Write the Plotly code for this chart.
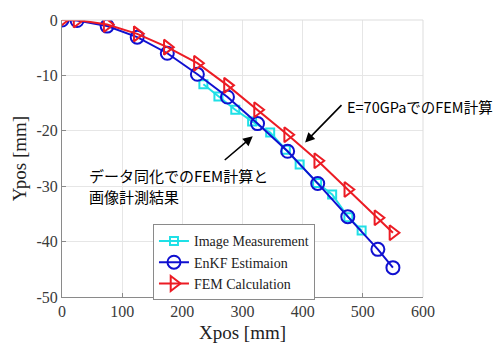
import plotly.graph_objects as go

# ---- data ----
meas_x = [235, 260, 288, 316, 346, 372, 395, 424, 449, 476, 498]
meas_y = [-11.6, -13.8, -16.2, -18.3, -20.3, -23.4, -26.1, -29.4, -31.5, -35.6, -38.0]

enkf_x = [0, 25, 75, 125, 175, 225, 275, 325, 375, 425, 475, 525, 550]
enkf_y = [0, -0.1, -1.1, -3.1, -6.0, -9.8, -13.9, -18.7, -23.7, -29.5, -35.5, -41.4, -44.7]

fem_x = [0, 25, 75, 125, 175, 225, 275, 325, 375, 425, 475, 525, 550]
fem_y = [0, 0, -0.8, -2.5, -4.9, -7.8, -11.8, -16.2, -20.7, -25.4, -30.6, -35.7, -38.4]

x_ticks = [0, 100, 200, 300, 400, 500, 600]
y_ticks = [0, -10, -20, -30, -40, -50]

names = ["Image Measurement", "EnKF Estimaion", "FEM Calculation"]
note_fem = "E=70GPaでのFEM計算"
note_enkf_1 = "データ同化でのFEM計算と"
note_enkf_2 = "画像計測結果"

CYAN = "#1fe0e6"
BLUE = "#1010d0"
RED = "#ec1c24"
SERIF = "Liberation Serif"
JP = "Noto Sans CJK JP"

fig = go.Figure()
fig.add_trace(go.Scatter(x=meas_x, y=meas_y, mode="lines+markers", name=names[0],
                         line=dict(color=CYAN, width=2),
                         marker=dict(symbol="square-open", size=8, color=CYAN,
                                     line=dict(width=2, color=CYAN))))
fig.add_trace(go.Scatter(x=enkf_x, y=enkf_y, mode="lines+markers", name=names[1],
                         line=dict(color=BLUE, width=2),
                         marker=dict(symbol="circle-open", size=13, color=BLUE,
                                     line=dict(width=2, color=BLUE))))
fig.add_trace(go.Scatter(x=fem_x, y=fem_y, mode="lines+markers", name=names[2],
                         line=dict(color=RED, width=2),
                         marker=dict(symbol="triangle-right-open", size=13, color=RED,
                                     line=dict(width=2, color=RED))))

axis_common = dict(showgrid=True, gridcolor="#e6e6e6", gridwidth=1,
                   showline=True, linecolor="#8a8a8a", linewidth=1,
                   ticks="inside", ticklen=4, tickcolor="#8a8a8a",
                   zeroline=False, automargin=False,
                   tickfont=dict(family=SERIF, size=16, color="#3a3a3a"))

fig.update_xaxes(range=[0, 600], tickvals=x_ticks, ticktext=[str(v) for v in x_ticks],
                 title=dict(text="Xpos [mm]", font=dict(family=SERIF, size=19, color="#222222"),
                            standoff=6),
                 **axis_common)
fig.update_yaxes(range=[-50, 0], tickvals=y_ticks, ticktext=[str(v) for v in y_ticks],
                 title=dict(text="Ypos [mm]", font=dict(family=SERIF, size=19, color="#222222"),
                            standoff=4),
                 **axis_common)

# light top/right box edges
fig.add_shape(type="line", xref="paper", yref="paper", x0=0, x1=1, y0=1, y1=1,
              line=dict(color="#dddddd", width=1))
fig.add_shape(type="line", xref="paper", yref="paper", x0=1, x1=1, y0=0, y1=1,
              line=dict(color="#dddddd", width=1))

# arrows
fig.add_annotation(x=404, y=-22.1, ax=467, ay=-15.1, xref="x", yref="y", axref="x", ayref="y",
                   text="", showarrow=True, arrowhead=2, arrowsize=1.2, arrowwidth=1.6,
                   arrowcolor="black")
fig.add_annotation(x=317, y=-21.0, ax=268, ay=-25.5, xref="x", yref="y", axref="x", ayref="y",
                   text="", showarrow=True, arrowhead=2, arrowsize=1.2, arrowwidth=1.6,
                   arrowcolor="black")

# texts
fig.add_annotation(x=470, y=-15.6, xref="x", yref="y", text=note_fem, showarrow=False,
                   xanchor="left", yanchor="middle", font=dict(family=JP, size=14.5, color="black"))
fig.add_annotation(x=42, y=-28.1, xref="x", yref="y", text=note_enkf_1, showarrow=False,
                   xanchor="left", yanchor="middle", font=dict(family=JP, size=15, color="black"))
fig.add_annotation(x=42, y=-31.9, xref="x", yref="y", text=note_enkf_2, showarrow=False,
                   xanchor="left", yanchor="middle", font=dict(family=JP, size=15, color="black"))

# page adds ~8px offset at top-left, so the figure is sized to fill the rest
fig.update_layout(
    width=493, height=339,
    margin=dict(l=54, r=78, t=12, b=50),
    paper_bgcolor="white", plot_bgcolor="white",
    showlegend=True,
    legend=dict(x=0.252, y=0.262, xanchor="left", yanchor="top",
                bgcolor="white", bordercolor="#8a8a8a", borderwidth=1,
                font=dict(family=SERIF, size=14, color="#222222"),
                tracegroupgap=0, itemwidth=30),
)

fig.write_html("out.html")
